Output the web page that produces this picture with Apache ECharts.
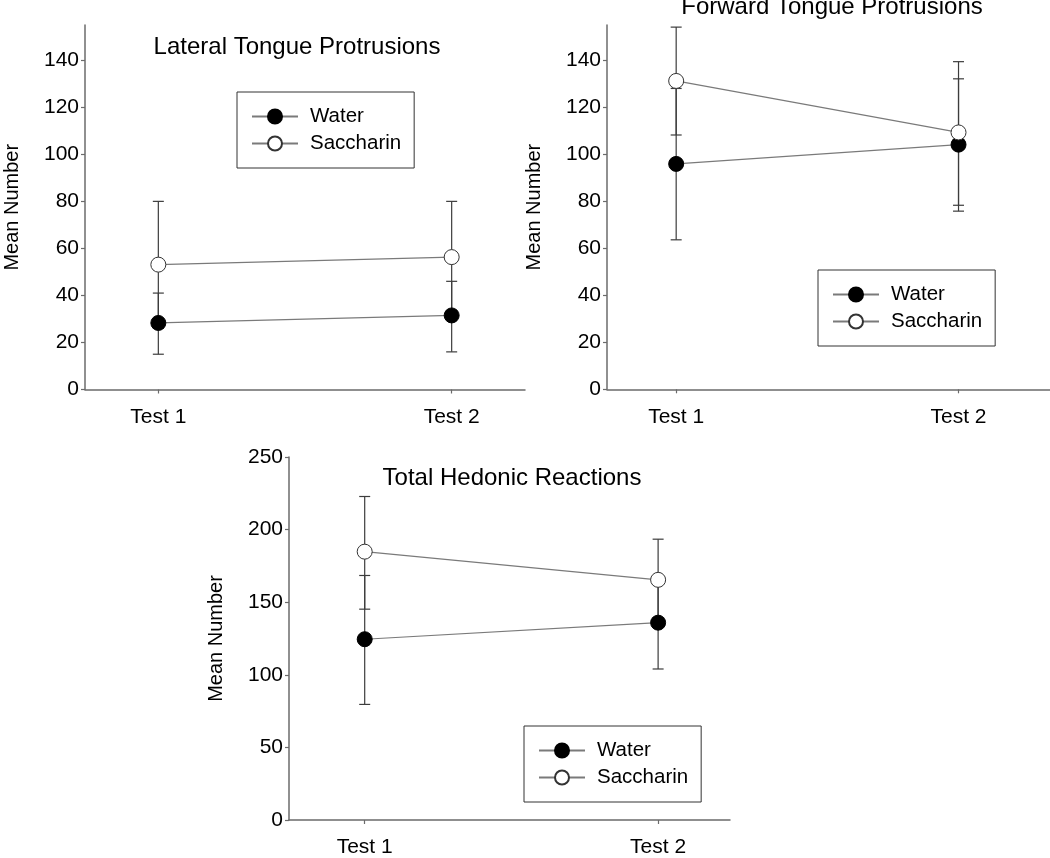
<!DOCTYPE html>
<html>
<head>
<meta charset="utf-8">
<script src="https://cdn.jsdelivr.net/npm/echarts@6/dist/echarts.min.js"></script>
<style>
html,body{margin:0;padding:0;background:#fff;}
#chart{width:1050px;height:858px;}
</style>
</head>
<body>
<div id="chart"></div>
<script>
// ---- data ----
const categories = ['Test 1', 'Test 2'];
const seriesNames = ['Water', 'Saccharin'];

const titles = ['Lateral Tongue Protrusions', 'Forward Tongue Protrusions', 'Total Hedonic Reactions'];
const yAxisName = 'Mean Number';

const yTicksTop = [0, 20, 40, 60, 80, 100, 120, 140];
const yTicksBottom = [0, 50, 100, 150, 200, 250];

// Lateral tongue protrusions
const lateralWater = [28.3, 31.5];
const lateralWaterLow = [15, 16];
const lateralWaterHigh = [41, 46];
const lateralSaccharin = [53.1, 56.3];
const lateralSaccharinLow = [26, 32.5];
const lateralSaccharinHigh = [80, 80];

// Forward tongue protrusions
const forwardWater = [95.9, 104.1];
const forwardWaterLow = [63.6, 75.8];
const forwardWaterHigh = [128, 132.1];
const forwardSaccharin = [131.2, 109.3];
const forwardSaccharinLow = [108.2, 78.3];
const forwardSaccharinHigh = [154.1, 139.4];

// Total hedonic reactions
const hedonicWater = [124.5, 135.9];
const hedonicWaterLow = [79.6, 104];
const hedonicWaterHigh = [168.4, 167.9];
const hedonicSaccharin = [184.8, 165.4];
const hedonicSaccharinLow = [145.2, 137.4];
const hedonicSaccharinHigh = [222.8, 193.4];

// ---- styling / layout ----
const FONT = "'Liberation Sans', Arial, sans-serif";
const AXIS_COLOR = '#6b6b6b';
const LINE_COLOR = '#7a7a7a';
const ERR_COLOR = '#3c3c3c';

const panels = [
  {grid: {left: 85, top: 25, width: 440, height: 364.5}, xMin: 0.75, xMax: 2.25, yMax: 155, yTicks: yTicksTop,
   water: lateralWater, waterLow: lateralWaterLow, waterHigh: lateralWaterHigh,
   sacc: lateralSaccharin, saccLow: lateralSaccharinLow, saccHigh: lateralSaccharinHigh,
   title: {x: 297, y: 47}, legend: {left: 237, top: 92}},
  {grid: {left: 607, top: 25, width: 446, height: 364.3}, xMin: 0.755, xMax: 2.324, yMax: 155, yTicks: yTicksTop,
   water: forwardWater, waterLow: forwardWaterLow, waterHigh: forwardWaterHigh,
   sacc: forwardSaccharin, saccLow: forwardSaccharinLow, saccHigh: forwardSaccharinHigh,
   title: {x: 832, y: 7}, legend: {left: 818, top: 270}},
  {grid: {left: 289, top: 457, width: 441, height: 366}, xMin: 0.742, xMax: 2.245, yMax: 250, yTicks: yTicksBottom,
   water: hedonicWater, waterLow: hedonicWaterLow, waterHigh: hedonicWaterHigh,
   sacc: hedonicSaccharin, saccLow: hedonicSaccharinLow, saccHigh: hedonicSaccharinHigh,
   title: {x: 512, y: 478}, legend: {left: 524, top: 726}}
];

function errorRenderItem(params, api) {
  const x = api.value(0), lo = api.value(1), hi = api.value(2);
  const pLo = api.coord([x, lo]);
  const pHi = api.coord([x, hi]);
  const hw = 5.5;
  const style = {stroke: ERR_COLOR, lineWidth: 1.2, fill: null};
  return {
    type: 'group',
    children: [
      {type: 'line', shape: {x1: pLo[0], y1: pLo[1], x2: pHi[0], y2: pHi[1]}, style: style},
      {type: 'line', shape: {x1: pHi[0] - hw, y1: pHi[1], x2: pHi[0] + hw, y2: pHi[1]}, style: style},
      {type: 'line', shape: {x1: pLo[0] - hw, y1: pLo[1], x2: pLo[0] + hw, y2: pLo[1]}, style: style}
    ]
  };
}

const grids = [], xAxes = [], yAxes = [], series = [], legends = [], graphics = [];
const xPositions = categories.map((c, i) => i + 1);

panels.forEach((p, i) => {
  grids.push(Object.assign({containLabel: false}, p.grid));
  xAxes.push({
    type: 'value', gridIndex: i, min: p.xMin, max: p.xMax,
    axisLine: {show: true, lineStyle: {color: AXIS_COLOR, width: 1.5}},
    axisTick: {show: true, length: 4, customValues: xPositions, lineStyle: {color: AXIS_COLOR, width: 1.2}},
    axisLabel: {show: true, customValues: xPositions, margin: 17, color: '#000', fontSize: 21, fontFamily: FONT,
      formatter: v => categories[Math.round(v) - 1]},
    splitLine: {show: false}
  });
  yAxes.push({
    type: 'value', gridIndex: i, min: 0, max: p.yMax,
    name: yAxisName, nameLocation: 'middle', nameRotate: 90, nameGap: 63,
    nameTextStyle: {color: '#000', fontSize: 20, fontFamily: FONT},
    axisLine: {show: true, lineStyle: {color: AXIS_COLOR, width: 1.5}},
    axisTick: {show: true, inside: false, length: 4, customValues: p.yTicks, lineStyle: {color: AXIS_COLOR, width: 1.2}},
    axisLabel: {show: true, customValues: p.yTicks, margin: 6, color: '#000', fontSize: 21, fontFamily: FONT},
    splitLine: {show: false}
  });
  const errWater = xPositions.map((x, k) => [x, p.waterLow[k], p.waterHigh[k]]);
  const errSacc = xPositions.map((x, k) => [x, p.saccLow[k], p.saccHigh[k]]);
  series.push({
    type: 'custom', name: 'err-water-' + i, xAxisIndex: i, yAxisIndex: i, z: 1,
    renderItem: errorRenderItem, encode: {x: 0, y: [1, 2]}, data: errWater, silent: true
  });
  series.push({
    type: 'custom', name: 'err-sacc-' + i, xAxisIndex: i, yAxisIndex: i, z: 1,
    renderItem: errorRenderItem, encode: {x: 0, y: [1, 2]}, data: errSacc, silent: true
  });
  series.push({
    type: 'line', name: seriesNames[0], xAxisIndex: i, yAxisIndex: i, z: 3,
    data: xPositions.map((x, k) => [x, p.water[k]]),
    symbol: 'circle', symbolSize: 15,
    lineStyle: {color: LINE_COLOR, width: 1.2},
    itemStyle: {color: '#000', borderColor: '#000', borderWidth: 1},
    emphasis: {disabled: true}, animation: false
  });
  series.push({
    type: 'line', name: seriesNames[1], xAxisIndex: i, yAxisIndex: i, z: 3,
    data: xPositions.map((x, k) => [x, p.sacc[k]]),
    symbol: 'circle', symbolSize: 15,
    lineStyle: {color: LINE_COLOR, width: 1.2},
    itemStyle: {color: '#fff', borderColor: '#333', borderWidth: 1},
    emphasis: {disabled: true}, animation: false
  });
  legends.push({
    data: seriesNames, orient: 'vertical', left: p.legend.left, top: p.legend.top,
    padding: [14, 13, 14, 14], itemGap: 6, itemWidth: 46, itemHeight: 17.5,
    backgroundColor: '#fff', borderColor: '#333', borderWidth: 1, borderRadius: 0,
    textStyle: {color: '#000', fontSize: 20.5, fontFamily: FONT, padding: [0, 0, 0, 7], lineHeight: 20},
    selectedMode: false
  });
  graphics.push({
    type: 'text', x: p.title.x, y: p.title.y, z: 10,
    style: {text: titles[i], fill: '#000', font: '24px ' + FONT, align: 'center', verticalAlign: 'middle',
      textAlign: 'center', textVerticalAlign: 'middle'}
  });
});

const chart = echarts.init(document.getElementById('chart'), null, {renderer: 'canvas'});
chart.setOption({
  backgroundColor: '#fff',
  animation: false,
  grid: grids,
  xAxis: xAxes,
  yAxis: yAxes,
  legend: legends,
  graphic: graphics,
  series: series
});
</script>
</body>
</html>
